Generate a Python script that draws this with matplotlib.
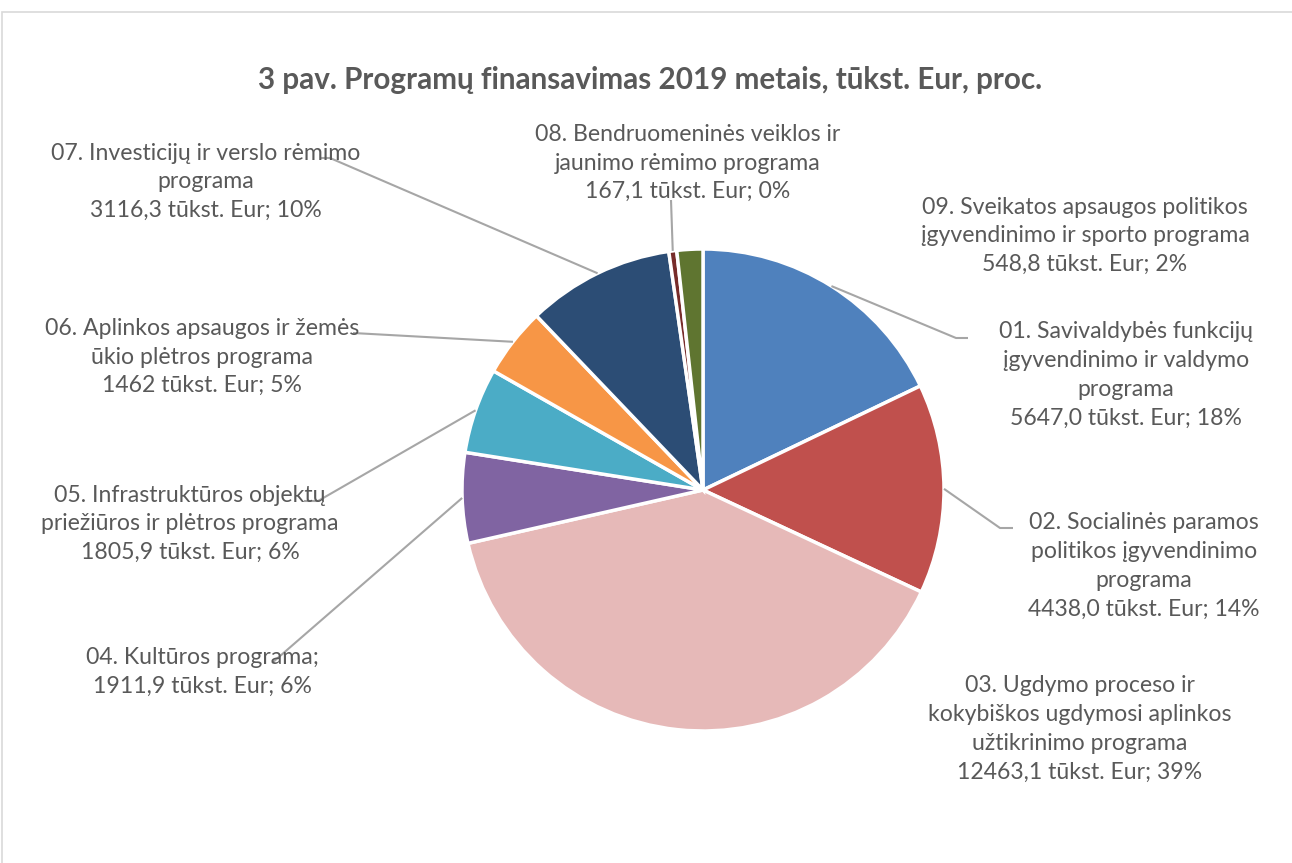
import numpy as np
import matplotlib
matplotlib.use("Agg")
import matplotlib.pyplot as plt
from matplotlib.patches import Rectangle

# ---- data ----
title = "3 pav. Programų finansavimas 2019 metais, tūkst. Eur, proc."
labels = [
    "01. Savivaldybės funkcijų\nįgyvendinimo ir valdymo\nprograma\n5647,0 tūkst. Eur; 18%",
    "02. Socialinės paramos\npolitikos įgyvendinimo\nprograma\n4438,0 tūkst. Eur; 14%",
    "03. Ugdymo proceso ir\nkokybiškos ugdymosi aplinkos\nužtikrinimo programa\n12463,1 tūkst. Eur; 39%",
    "04. Kultūros programa;\n1911,9 tūkst. Eur; 6%",
    "05. Infrastruktūros objektų\npriežiūros ir plėtros programa\n1805,9 tūkst. Eur; 6%",
    "06. Aplinkos apsaugos ir žemės\nūkio plėtros programa\n1462 tūkst. Eur; 5%",
    "07. Investicijų ir verslo rėmimo\nprograma\n3116,3 tūkst. Eur; 10%",
    "08. Bendruomeninės veiklos ir\njaunimo rėmimo programa\n167,1 tūkst. Eur; 0%",
    "09. Sveikatos apsaugos politikos\nįgyvendinimo ir sporto programa\n548,8 tūkst. Eur; 2%",
]
values = [5647.0, 4438.0, 12463.1, 1911.9, 1805.9, 1462.0, 3116.3, 167.1, 548.8]
colors = ["#4F81BD", "#C0504D", "#E6B9B8", "#8064A2", "#4BACC6",
          "#F79646", "#2C4D75", "#772C2A", "#5F7530"]

# ---- layout (pixel coordinates, image y downwards) ----
W, H = 1292, 863
cx, cy, R = 703, 490, 241
label_pos = [(1126, 375), (1144, 566), (1080, 729), (202, 672), (190, 524),
             (202, 357), (206, 182), (688, 163), (1085, 236)]
# leader polylines after the wedge-edge start point (None = no leader)
leader_pts = [
    [(956, 338), (968, 338)],
    [(1000, 528), (1013, 528)],
    None,
    [(272, 663)],
    [(318, 501), (304, 501)],
    [(353, 333)],
    [(330, 158), (320, 158)],
    [(671, 200)],
    None,
]

plt.rcParams['font.family'] = ['Lato', 'DejaVu Sans']
fig = plt.figure(figsize=(W / 100, H / 100), dpi=100)
ax = fig.add_axes([0, 0, 1, 1])
ax.set_xlim(0, W)
ax.set_ylim(0, H)
ax.axis('off')

def Y(y):
    return H - y

# border
ax.add_patch(Rectangle((2, Y(H + 10)), W + 10, (H + 10) - 12, fill=False,
                       edgecolor="#D9D9D9", linewidth=1.2))

wedges, _ = ax.pie(values, colors=colors, startangle=90, counterclock=False,
                   center=(cx, Y(cy)), radius=R,
                   wedgeprops=dict(edgecolor="white", linewidth=2.5))
ax.set_xlim(0, W)
ax.set_ylim(0, H)
ax.set_aspect('auto')

txtcol = "#595959"
for w, lab, pos, pts in zip(wedges, labels, label_pos, leader_pts):
    ax.text(pos[0], Y(pos[1]), lab, ha='center', va='center', fontsize=16.6,
            color=txtcol, linespacing=1.46)
    if pts is not None:
        ang = np.deg2rad((w.theta1 + w.theta2) / 2)
        sx = cx + R * np.cos(ang)
        sy = Y(cy) + R * np.sin(ang)
        xs = [sx] + [p[0] for p in pts]
        ys = [sy] + [Y(p[1]) for p in pts]
        ax.plot(xs, ys, color="#A6A6A6", linewidth=1.5, solid_capstyle='butt')

ax.text(650, Y(80), title, ha='center', va='center', fontsize=21.3,
        fontweight='bold', color=txtcol)

fig.savefig("out.png", dpi=100)
